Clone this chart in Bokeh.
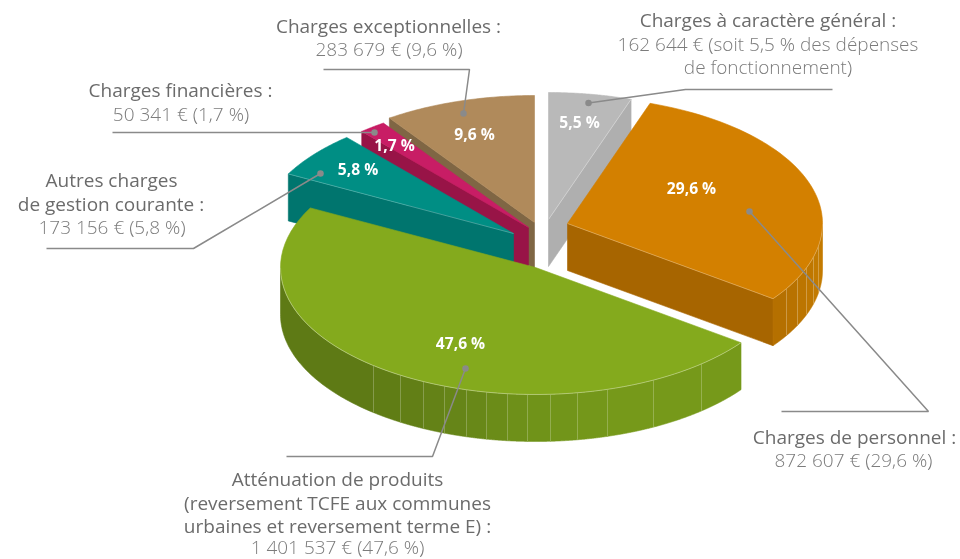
import math
from bokeh.plotting import figure
from bokeh.models import Range1d
from bokeh.core.properties import value
from bokeh.embed import file_html
from bokeh.resources import INLINE

names = ["Charges à caractère général", "Charges de personnel", "Atténuation de produits",
         "Autres charges de gestion courante", "Charges financières", "Charges exceptionnelles"]
amounts = [162644, 872607, 1401537, 173156, 50341, 283679]
pct_labels = ["5,5 %", "29,6 %", "47,6 %", "5,8 %", "1,7 %", "9,6 %"]
top_colors = ["#B9B9B9", "#D38000", "#84AA1D", "#008E84", "#C81D65", "#B08A5B"]
cut_colors = ["#AFAFAF", "#A76500", "#5E7A15", "#00756E", "#981447", "#7F6644"]
centers = [(548, 219), (567, 223), (535, 267), (513, 233), (528, 227), (534, 222)]
pct_pos = [(579, 121), (691, 187), (460, 342), (357.5, 168), (394, 144), (474, 133)]
angle_nudge = [0, 1.0, 0.3, 0, 0, 0, 0]

RX, RY, DEPTH = 255, 127, 47
orange_facet_x = [786, 797, 806, 813, 818]
green_facet_x = [373, 400, 423, 444, 466, 486, 507, 527, 550, 577, 607, 653, 701]
green_facet_colors = ["#5E7A15", "#607D15", "#627F16", "#648217", "#668518", "#688818", "#6B8C18",
                      "#6E9019", "#709319", "#72951A", "#74971A", "#76991A", "#76991A", "#76991A"]
orange_facet_colors = ["#B57000", "#B87200", "#BC7500", "#BF7700", "#C27A00", "#C47B00"]

dark_text = "#6B6B6B"
light_text = "#7C7C7C"
label_lines = [
    ("Charges exceptionnelles :", 388, 25, dark_text, 0), ("283 679 € (9,6 %)", 388.5, 48, light_text, 1),
    ("Charges à caractère général :", 767.5, 19, dark_text, 0),
    ("162 644 € (soit 5,5 % des dépenses", 767.5, 43, light_text, 1), ("de fonctionnement)", 767.5, 66, light_text, 1),
    ("Charges financières :", 180, 89, dark_text, 0), ("50 341 € (1,7 %)", 180.5, 113, light_text, 1),
    ("Autres charges", 111, 179, dark_text, 0), ("de gestion courante :", 110.5, 203, dark_text, 0),
    ("173 156 € (5,8 %)", 111.5, 226, light_text, 1),
    ("Charges de personnel :", 854, 436, dark_text, 0), ("872 607 € (29,6 %)", 853, 459, light_text, 1),
    ("Atténuation de produits", 337, 478, dark_text, 0), ("(reversement TCFE aux communes", 337, 502, dark_text, 0),
    ("urbaines et reversement terme E) :", 337, 525, dark_text, 0), ("1 401 537 € (47,6 %)", 337, 546, light_text, 1),
]
leaders = [
    [(588, 102.5), (685, 89), (832, 89)],
    [(749, 211), (928, 411), (781, 411)],
    [(465, 368), (432, 456), (286, 456)],
    [(320, 173), (193, 248), (46, 248)],
    [(374, 132), (112, 132)],
    [(463, 113), (469, 69), (323, 69)],
]

p = figure(width=960, height=559, output_backend="svg", toolbar_location=None,
           x_range=Range1d(0, 960), y_range=Range1d(559, 0), min_border=0,
           outline_line_color=None, background_fill_color="white")
p.axis.visible = False
p.grid.visible = False
p.styles = {"position": "fixed", "left": "0px", "top": "0px"}

total = sum(amounts)
angles = [90.0]
for a in amounts:
    angles.append(angles[-1] - a / total * 360)
angles = [a + n for a, n in zip(angles, angle_nudge)]


def pt(c, t, d=0):
    r = math.radians(t)
    return c[0] + RX * math.cos(r), c[1] - RY * math.sin(r) + d


def arc(c, t0, t1, d=0, n=60):
    return [pt(c, t0 + (t1 - t0) * i / n, d) for i in range(n + 1)]


def poly(points, color):
    xs, ys = zip(*points)
    p.patch(list(xs), list(ys), fill_color=color, line_color=color, line_width=0.6)


def wall(c, t0, t1, color):
    poly(arc(c, t0, t1) + arc(c, t1, t0, DEPTH), color)


def cut(c, t, color):
    a, b = pt(c, t), pt(c, t, DEPTH)
    poly([c, a, b, (c[0], c[1] + DEPTH)], color)


def seam(points, alpha=0.45):
    xs, ys = zip(*points)
    p.line(list(xs), list(ys), line_color="white", line_alpha=alpha, line_width=0.7)


def x_to_angle(c, x):
    return -math.degrees(math.acos((x - c[0]) / RX))


# gray slice
c = centers[0]
cut(c, angles[1], cut_colors[0])
poly([c] + arc(c, angles[0], angles[1]), top_colors[0])
seam([c, pt(c, angles[1])])

# orange slice
c = centers[1]
cut(c, angles[2], cut_colors[1])
fa = [angles[2]] + [x_to_angle(c, x) for x in orange_facet_x] + [0.0]
for i in range(len(fa) - 1):
    wall(c, fa[i], fa[i + 1], orange_facet_colors[i])
for t in fa[1:-1]:
    seam([pt(c, t), pt(c, t, DEPTH)], 0.35)
poly([c] + arc(c, angles[1], angles[2]), top_colors[1])
seam([c, pt(c, angles[2])], 0.4)
seam(arc(c, angles[2], 0), 0.4)

# brown, pink, teal slices (back to front)
for i in (5, 4, 3):
    c = centers[i]
    cut(c, angles[i], cut_colors[i])
    poly([c] + arc(c, angles[i], angles[i + 1]), top_colors[i])
seam([centers[3], pt(centers[3], angles[3])], 0.35)

# green slice
c = centers[2]
fg = [angles[2]] + [x_to_angle(c, x) for x in reversed(green_facet_x)] + [-180.0]
cols = list(reversed(green_facet_colors))
for i in range(len(fg) - 1):
    wall(c, fg[i], fg[i + 1], cols[i])
for t in fg[1:-1]:
    seam([pt(c, t), pt(c, t, DEPTH)], 0.3)
poly([c] + arc(c, angles[2], angles[3]), top_colors[2])
seam(arc(c, angles[2], -180), 0.5)

# leader lines
for pts in leaders:
    xs, ys = zip(*pts)
    p.line(list(xs), list(ys), line_color="#8A8A8A", line_width=1.5)
    p.scatter([xs[0]], [ys[0]], size=6.5, fill_color="#8A8A8A", line_color=None)

# percentages
for lab, (x, y) in zip(pct_labels, pct_pos):
    p.text([x], [y], text=[lab], text_color="white", text_font=value("Open Sans"), text_font_style="bold",
           text_font_size="15.6px", text_align="center", text_baseline="middle")

# labels
for txt, x, y, col, light in label_lines:
    p.text([x], [y], text=[txt], text_color=col,
           text_font=value("Open Sans Light" if light else "Open Sans"), text_font_size="19px",
           text_align="center", text_baseline="middle")

open("out.html", "w").write(file_html(p, INLINE))
